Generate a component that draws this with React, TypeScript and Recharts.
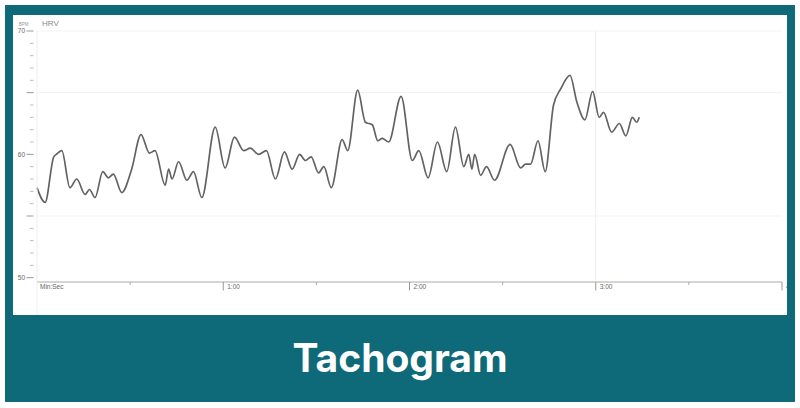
import React from 'react';
import { LineChart, Line, XAxis, YAxis, ReferenceLine } from 'recharts';

// seconds since start of recording
const TIMES = [
  0, 2.6, 5.4, 6.5, 8, 10.6, 12.8, 15.5, 16.9, 18.7, 21.2, 23, 24.6, 27.3, 30.5,
  33.5, 36.2, 38, 41.3, 42.4, 43.5, 45.6, 48.3, 50.4, 53.1, 57.4, 60.6, 63.6,
  66.6, 68.7, 71.4, 73.9, 76.8, 79.7, 82.2, 84.6, 86.5, 88.3, 90.7, 92.4, 94.8,
  98.3, 100.1, 103.3, 105.8, 108, 109.8, 111.2, 113.3, 117.3, 120.9, 123, 126,
  129, 132, 134.8, 137.5, 139.1, 140.1, 141, 142.9, 144.8, 147.4, 152.4, 155.8,
  157.4, 159, 161.4, 163.7, 166.4, 168.7, 171.7, 173.9, 176.5, 179, 181.1,
  182.5, 185.1, 187.6, 189.7, 191.8, 193.2, 194,
];

// heart rate (BPM)
const BPM = [
  57.3, 56.1, 59.8, 60.05, 60.3, 57.3, 58.0, 56.75, 57.15, 56.5, 58.6, 58.1,
  58.4, 56.9, 58.8, 61.6, 60.1, 60.3, 57.5, 58.8, 58.0, 59.4, 57.9, 58.6, 56.5,
  62.2, 58.9, 61.4, 60.3, 60.5, 60.0, 60.3, 58.0, 60.2, 58.8, 60.0, 59.5, 59.8,
  58.5, 59.0, 57.3, 61.2, 60.3, 65.2, 62.6, 62.4, 61.1, 61.3, 61.0, 64.7, 59.5,
  60.3, 58.1, 61.0, 58.6, 62.2, 59.0, 60.0, 58.8, 60.0, 58.3, 59.0, 57.9, 60.8,
  58.9, 59.2, 59.2, 61.1, 58.6, 64.0, 65.3, 66.4, 64.25, 62.8, 65.1, 63.0,
  63.4, 61.8, 62.5, 61.5, 63.0, 62.6, 63.0,
];

const X_TICKS = [0, 30, 60, 90, 120, 150, 180, 210, 240];
const X_LABELS: Record<number, string> = {
  0: 'Min:Sec',
  60: '1:00',
  120: '2:00',
  180: '3:00',
  240: '4:00',
};
const Y_TICKS = [
  50, 51, 52, 53, 54, 55, 56, 57, 58, 59, 60, 61, 62, 63, 64, 65, 66, 67, 68, 69, 70,
];
const Y_LABELS = [50, 60, 70];

const data = TIMES.map((t, i) => ({ t, bpm: BPM[i] }));

const TEAL = '#0e6a79';
const AXIS_FONT = '"Liberation Sans", Arial, sans-serif';

const XTick = (props: any) => {
  const { x, y, payload } = props;
  const v = payload.value as number;
  const label = X_LABELS[v];
  if (v === 0) {
    return (
      <g>
        <line x1={x} x2={x} y1={y} y2={y + 40} stroke="#eee" />
        <text x={x + 3} y={y + 7} fontSize={6.5} fill="#666" fontFamily={AXIS_FONT}>
          {label}
        </text>
      </g>
    );
  }
  if (label) {
    return (
      <g>
        <line x1={x} x2={x} y1={y} y2={y + 8.5} stroke="#999" />
        <text x={x + 4} y={y + 7} fontSize={6.5} fill="#666" fontFamily={AXIS_FONT}>
          {label}
        </text>
      </g>
    );
  }
  return <line x1={x} x2={x} y1={y} y2={y + 3} stroke="#aaa" />;
};

const YTick = (props: any) => {
  const { x, y, payload } = props;
  const v = payload.value as number;
  const major = v % 5 === 0;
  return (
    <g>
      <line
        x1={major ? x - 10.5 : x - 7}
        x2={x - 3.5}
        y1={y}
        y2={y}
        stroke={major ? '#999' : '#bbb'}
      />
      {Y_LABELS.includes(v) && (
        <text
          x={x - 12}
          y={y + 2.2}
          textAnchor="end"
          fontSize={6.5}
          fill="#666"
          fontFamily={AXIS_FONT}
        >
          {v}
        </text>
      )}
      {v === 70 && (
        <text
          x={x - 8.5}
          y={y - 5}
          textAnchor="end"
          fontSize={4.5}
          fill="#999"
          fontFamily={AXIS_FONT}
        >
          BPM
        </text>
      )}
    </g>
  );
};

export default function App() {
  return (
    <div
      style={{
        position: 'absolute',
        left: 0,
        top: 0,
        width: 800,
        height: 408,
        background: '#ffffff',
      }}
    >
      <div
        style={{
          position: 'absolute',
          left: 5,
          top: 5,
          width: 790,
          height: 397,
          background: TEAL,
        }}
      />
      <div
        style={{
          position: 'absolute',
          left: 13,
          top: 15,
          width: 774,
          height: 300,
          background: '#ffffff',
          overflow: 'hidden',
        }}
      >
        <div
          style={{
            position: 'absolute',
            left: 29,
            top: 4,
            fontSize: 8,
            color: '#888',
            fontFamily: AXIS_FONT,
          }}
        >
          HRV
        </div>
        <LineChart
          width={774}
          height={300}
          data={data}
          margin={{ top: 16, right: 5, bottom: 3, left: 4 }}
        >
          <XAxis
            dataKey="t"
            type="number"
            domain={[0, 240]}
            ticks={X_TICKS}
            interval={0}
            tickLine={false}
            tickSize={0}
            tickMargin={0}
            axisLine={{ stroke: '#aaa' }}
            height={30}
            tick={<XTick />}
          />
          <YAxis
            type="number"
            domain={[49.65, 70]}
            ticks={Y_TICKS}
            interval={0}
            allowDataOverflow
            tickLine={false}
            tickSize={0}
            tickMargin={0}
            axisLine={{ stroke: '#eee' }}
            width={20}
            tick={<YTick />}
          />
          <ReferenceLine y={65} stroke="#f0f0f0" />
          <ReferenceLine y={55} stroke="#f3f3f3" />
          <ReferenceLine y={70} stroke="#f3f3f3" />
          <ReferenceLine x={180} stroke="#eeeeee" />
          <Line
            type="monotone"
            dataKey="bpm"
            stroke="#636363"
            strokeWidth={1.7}
            dot={false}
            isAnimationActive={false}
          />
        </LineChart>
      </div>
      <div
        style={{
          position: 'absolute',
          left: 5,
          top: 315,
          width: 790,
          height: 85,
          display: 'flex',
          alignItems: 'center',
          justifyContent: 'center',
          color: '#ffffff',
          fontFamily: 'Inter, Roboto, sans-serif',
          fontWeight: 700,
          fontSize: 39,
        }}
      >
        Tachogram
      </div>
    </div>
  );
}
